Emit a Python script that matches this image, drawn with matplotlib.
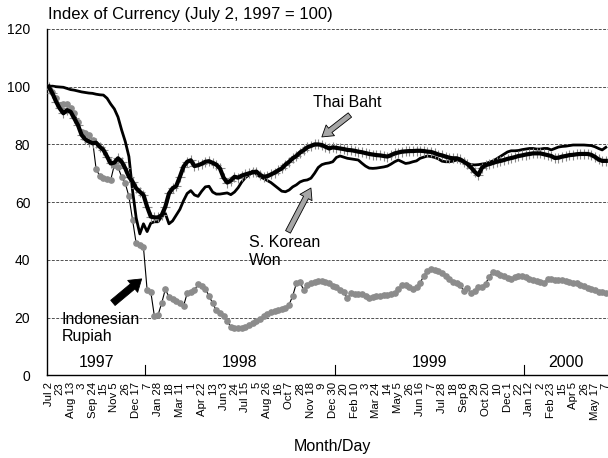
import numpy as np
import matplotlib
matplotlib.use('Agg')
import matplotlib.pyplot as plt

# weekly index values, Jul 2 1997 = 100
thai_baht = [
    100, 97.7, 94.8, 92.5, 90.8, 91.9, 91.3, 89, 86.7, 83.3,
    81.8, 81, 80.4, 80.6, 79.2, 78.1, 75.8, 73.4, 73.7, 75.2,
    74, 71.7, 68.8, 67.1, 64.8, 63.6, 62.5, 58.4, 55, 54.7,
    54.7, 55.5, 58.4, 63, 64.8, 65.6, 68.8, 72.3, 74, 74.5,
    72.5, 72.8, 73.3, 74, 74.2, 73.6, 73, 71.7, 68.5, 66.8,
    67.5, 68.8, 68.5, 69.2, 69.6, 70, 70.3, 70.6, 69.5, 68.8,
    69, 69.6, 70.2, 71, 71.7, 73, 74, 75.2, 76, 77.2,
    78, 79, 79.5, 80, 80, 79.8, 79.2, 78.6, 79, 78.8,
    78.6, 78.4, 78.1, 78, 77.8, 77.5, 77.3, 77, 76.7, 76.5,
    76.3, 76.2, 76, 75.8, 76.3, 76.9, 77.2, 77.5, 77.6, 77.7,
    77.7, 77.8, 77.8, 77.7, 77.5, 77.4, 77, 76.5, 76.2, 75.8,
    75.4, 75.2, 75.2, 74.8, 74, 73.2, 72, 70.5, 69.4, 72,
    72.8, 73.2, 73.6, 74, 74.3, 74.6, 75, 75.3, 75.6, 76,
    76.2, 76.5, 76.7, 76.9, 76.9, 76.9, 76.6, 76.3, 76, 75.3,
    75.4, 75.8, 76, 76.3, 76.4, 76.6, 76.7, 76.7, 76.7, 76.4,
    75.7, 74.8, 74.3, 74.3,
]
korean_won = [
    100, 100.2, 100, 99.9, 99.8, 99.4, 99, 98.8, 98.5, 98.2,
    98, 97.8, 97.7, 97.4, 97.2, 97.1, 96, 94, 92.3, 89.5,
    85, 81, 75.8, 64, 54.5, 49, 52.5, 49.8, 52.7, 53.2,
    53.2, 55, 56.1, 52.5, 53.5, 55.5, 57.5, 60.5, 63, 64,
    62.5, 62, 63.8, 65.3, 65.5, 63.5, 62.8, 62.8, 63, 63.2,
    62.6, 63.5, 65, 67, 68.5, 69.4, 70.8, 69.8, 68.8, 68.2,
    67.5, 66.8, 65.8, 64.8, 63.8, 63.6, 64.2, 65.3, 66, 67,
    67.5, 67.7, 68.3, 70, 72, 73, 73.4, 73.6, 74, 75.5,
    76, 75.6, 75.2, 75, 74.8, 74.6, 73.5, 72.5, 71.8, 71.7,
    71.8, 72, 72.2, 72.5, 73.2, 74, 74.6, 74, 73.4, 73.6,
    74, 74.3, 75.2, 75.6, 76, 75.8, 75.5, 75, 74.2, 74,
    74, 74.2, 74.6, 74.4, 73.8, 73.4, 73, 72.9, 73, 73.2,
    73.4, 73.8, 74.3, 75, 75.8, 76.6, 77.4, 77.8, 77.8, 77.9,
    78.2, 78.4, 78.6, 78.6, 78.4, 78.4, 78.6, 78.6, 78.1, 78.6,
    79.1, 79.3, 79.4, 79.6, 79.8, 79.8, 79.8, 79.8, 79.7, 79.6,
    79.2, 78.6, 78.1, 79,
]
indonesian_rupiah = [
    100, 98.3, 96, 93.6, 94, 94, 92.5, 90.8, 87.9, 84.4,
    83.8, 83.3, 81.5, 71.4, 69.1, 68.2, 67.9, 67.7, 72.9, 72.1,
    68.8, 66.5, 62, 53.8, 45.7, 45.3, 44.3, 29.6, 29, 20.5,
    20.9, 25, 29.8, 27.2, 26.5, 25.8, 25, 24, 28.4, 28.8,
    29.6, 31.5, 30.8, 30, 27.5, 25, 22.5, 21.5, 20.5, 18.8,
    16.8, 16.3, 16.3, 16.5, 16.9, 17.5, 18, 18.8, 19.5, 20.5,
    21.3, 22, 22.2, 22.6, 22.9, 23.2, 24.5, 27.5, 31.9, 32.4,
    29.5, 31.3, 32, 32.4, 32.7, 32.6, 32.4, 31.9, 31, 30.5,
    29.7, 28.8, 26.7, 28.4, 28.3, 28.1, 28, 27.5, 26.9, 27,
    27.4, 27.6, 27.8, 27.9, 28.2, 28.4, 30, 31.2, 31.4, 30.7,
    30, 30.5, 32, 34.5, 36.2, 36.7, 36.6, 36.3, 35.6, 34.5,
    33.2, 32.4, 32, 31.2, 29.2, 30.2, 28.4, 29.2, 30.5, 30.5,
    31.8, 34.2, 35.8, 35.5, 34.8, 34.4, 33.6, 33.3, 33.9, 34.3,
    34.3, 34, 33.5, 33, 32.6, 32.2, 31.9, 33.3, 33.2, 33,
    33, 33, 32.6, 32.2, 31.9, 31.9, 31.4, 30.9, 30.4, 29.9,
    29.6, 29, 28.8, 28.6,
]

# category labels, one every third week
week_labels = [
    'Jul 2', '23', 'Aug 13', '3', 'Sep 24', '15', 'Nov 5', '26', 'Dec 17', '7',
    'Jan 28', '18', 'Mar 11', '1', 'Apr 22', '13', 'Jun 3', '24', 'Jul 15', '5',
    'Aug 26', '16', 'Oct 7', '28', 'Nov 18', '9', 'Dec 30', '20', 'Feb 10', '3',
    'Mar 24', '14', 'May 5', '26', 'Jun 16', '7', 'Jul 28', '18', 'Sep 8', '29',
    'Oct 20', '10', 'Dec 1', '22', 'Jan 12', '2', 'Feb 23', '15', 'Apr 5', '26',
    'May 17', '7',
]
years = ['1997', '1998', '1999', '2000']
year_breaks = [26.5, 78.5, 130.5]

plt.rcParams['font.family'] = ['Liberation Sans', 'DejaVu Sans']

weeks = np.arange(len(thai_baht))
x_lo, x_hi = -0.5, 153.6

fig = plt.figure(figsize=(6.08, 4.58), dpi=100)
ax = fig.add_axes([47 / 608, 1 - 375.3 / 458, 1 - 47 / 608, (375.3 - 29) / 458])

ax.plot(weeks, indonesian_rupiah, color='black', lw=0.8, marker='o', ms=3.8,
        mfc='#8c8c8c', mec='#8c8c8c', zorder=3)
ax.plot(weeks, korean_won, color='black', lw=2.0, zorder=4)
# crosses sit under the thick Thai line, only their vertical arms show
ax.plot(weeks, thai_baht, ls='none', marker='+', ms=7,
        mec='#8a8a8a', mew=0.8, zorder=4.5)
ax.plot(weeks, thai_baht, color='black', lw=3.0, zorder=5)

ax.set_xlim(x_lo, x_hi)
ax.set_ylim(0, 120)
ax.set_yticks(range(0, 121, 20))
ax.yaxis.grid(True, linestyle=(0, (3, 1.5)), color='#505050', lw=0.7)
ax.set_axisbelow(True)
ax.tick_params(axis='y', length=0, pad=12, labelsize=10)

ax.set_xticks(weeks[::3])
ax.set_xticklabels(week_labels, rotation=90, fontsize=8.2)
ax.tick_params(axis='x', length=0, pad=5)

for s in ['top', 'right']:
    ax.spines[s].set_visible(False)
for s in ['left', 'bottom']:
    ax.spines[s].set_linewidth(1.0)

# year band under the curves
edges = [x_lo] + year_breaks + [x_hi]
for i, yr in enumerate(years):
    ax.text((edges[i] + edges[i + 1]) / 2, 4.3, yr, ha='center', va='center', fontsize=11.5)
for b in year_breaks:
    ax.plot([b, b], [0, 3.6], color='black', lw=0.8, clip_on=False)

# labels and arrows
ax.text(81.9, 94.4, 'Thai Baht', ha='center', va='center', fontsize=11.5)
ax.annotate('', xy=(75.0, 82.6), xytext=(82.7, 90.2),
            arrowprops=dict(arrowstyle='simple,head_width=0.7,head_length=0.55,tail_width=0.28',
                            fc='#a6a6a6', ec='black', lw=0.6, mutation_scale=14,
                            shrinkA=0, shrinkB=0))
ax.text(54.9, 42.9, 'S. Korean\nWon', ha='left', va='center', fontsize=11.5)
ax.annotate('', xy=(72.0, 64.9), xytext=(65.7, 49.7),
            arrowprops=dict(arrowstyle='simple,head_width=0.7,head_length=0.55,tail_width=0.28',
                            fc='#a6a6a6', ec='black', lw=0.6, mutation_scale=14,
                            shrinkA=0, shrinkB=0))
ax.text(3.6, 16.4, 'Indonesian\nRupiah', ha='left', va='center', fontsize=11.5)
ax.annotate('', xy=(25.5, 33.4), xytext=(17.6, 25.1),
            arrowprops=dict(arrowstyle='simple,head_width=0.8,head_length=0.6,tail_width=0.35',
                            fc='black', ec='black', lw=0.6, mutation_scale=14,
                            shrinkA=0, shrinkB=0))

fig.text(48 / 608, 1 - 15 / 458, 'Index of Currency (July 2, 1997 = 100)',
         ha='left', va='center', fontsize=12)
fig.text(332 / 608, 1 - 446 / 458, 'Month/Day', ha='center', va='center', fontsize=11.5)

fig.savefig('out.png', dpi=100)
